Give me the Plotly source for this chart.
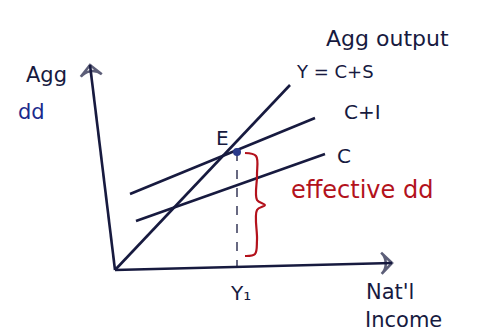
import plotly.graph_objects as go

# Keynesian cross: aggregate demand vs. national income (hand-drawn coordinates)
y_axis_x = [0, -25]
y_axis_y = [0, 205]
x_axis_x = [0, 277]
x_axis_y = [0, 7]

# 45-degree line Y = C + S
line45_x = [0, 175]
line45_y = [0, 185]

# Consumption + investment and consumption schedules
ci_x = [15, 200]
ci_y = [76, 152]
c_x = [21, 210]
c_y = [49, 116]

# Equilibrium point E and its income level Y1
eq_x = [122]
eq_y = [118]

# Brace marking effective demand
brace_x = [130, 141, 142, 142, 150, 142, 142, 140, 130]
brace_y = [117, 114, 95, 70, 65, 60, 30, 16, 14]

INK = "#171a3f"
RED = "#b3121c"
BLUE = "#1a2a8c"
FONT = "DejaVu Sans"

fig = go.Figure()

def seg(xs, ys, color=INK, width=2.6, dash=None, shape="linear"):
    fig.add_trace(go.Scatter(x=xs, y=ys, mode="lines",
                             line=dict(color=color, width=width, dash=dash, shape=shape),
                             hoverinfo="skip", showlegend=False))

# Axes with open arrowheads at their far ends
for xs, ys in [(y_axis_x, y_axis_y), (x_axis_x, x_axis_y)]:
    fig.add_trace(go.Scatter(
        x=xs, y=ys, mode="lines+markers",
        line=dict(color=INK, width=2.6),
        marker=dict(symbol="arrow-wide-open", size=[0, 15], angleref="previous",
                    color=INK, line=dict(color=INK, width=2.6)),
        hoverinfo="skip", showlegend=False))

seg(line45_x, line45_y)
seg(ci_x, ci_y)
seg(c_x, c_y)
seg([eq_x[0], eq_x[0]], [eq_y[0], 2], width=1.3, dash="dash")
seg(brace_x, brace_y, color=RED, width=2.2, shape="spline")

fig.add_trace(go.Scatter(x=eq_x, y=eq_y, mode="markers",
                         marker=dict(color="#2a3a8a", size=8),
                         hoverinfo="skip", showlegend=False))

labels = [
    ("Agg output", 272, 232, 22, INK),
    ("Y = C+S", 220, 199, 18, INK),
    ("C+I", 247, 158, 20, INK),
    ("C", 229, 114, 20, INK),
    ("E", 107, 132, 20, INK),
    ("Y₁", 125, -23, 20, INK),
    ("Nat'l", 275, -22, 21, INK),
    ("Income", 288, -50, 21, INK),
    ("Agg", -69, 195, 21, INK),
    ("dd", -84, 158, 21, BLUE),
    ("effective dd", 247, 80, 24, RED),
]
for text, x, y, size, color in labels:
    fig.add_annotation(x=x, y=y, text=text, showarrow=False, xref="x", yref="y",
                       font=dict(family=FONT, size=size, color=color))

fig.update_layout(
    width=480, height=336,
    margin=dict(l=0, r=0, t=0, b=0),
    paper_bgcolor="white", plot_bgcolor="white",
    xaxis=dict(range=[-115, 365], visible=False, fixedrange=True),
    yaxis=dict(range=[-66, 270], visible=False, fixedrange=True),
)

fig.write_html("out.html")
